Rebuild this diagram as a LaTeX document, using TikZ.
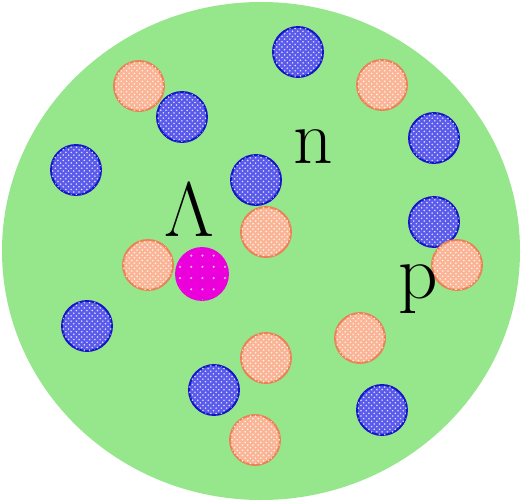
\documentclass[tikz,border=0pt]{standalone}
\usetikzlibrary{patterns}
\definecolor{nucgreen}{RGB}{150,230,140}
\definecolor{protfill}{RGB}{90,90,235}
\definecolor{protline}{RGB}{20,20,200}
\definecolor{neutfill}{RGB}{250,180,150}
\definecolor{neutline}{RGB}{235,130,85}
\definecolor{lamfill}{RGB}{235,0,220}
\pgfdeclarepatternformonly{sparse dots}{\pgfqpoint{-1pt}{-1pt}}{\pgfqpoint{6pt}{6pt}}{\pgfqpoint{6.4pt}{6.4pt}}%
{\pgfpathcircle{\pgfqpoint{0pt}{0pt}}{0.7pt}\pgfusepath{fill}}
\tikzset{
  ball/.style={circle, inner sep=0pt, minimum size=1cm, line width=1.1pt},
  proton/.style={ball, draw=protline, fill=protfill,
    postaction={pattern=crosshatch dots, pattern color=white!80!protfill}},
  neutron/.style={ball, draw=neutline, fill=neutfill,
    postaction={pattern=crosshatch dots, pattern color=white!85!neutfill}},
  hyperon/.style={ball, minimum size=1.04cm, draw=lamfill, fill=lamfill,
    postaction={pattern=sparse dots, pattern color=white!70!lamfill}},
  letter/.style={font=\Huge, scale=1.77, anchor=base, inner sep=0pt}
}
\begin{document}
\begin{tikzpicture}[x=0.02cm,y=-0.02cm]
    \useasboundingbox (0,0) rectangle (523,503);
    % nucleus
    \fill[nucgreen] (261,251) ellipse (259 and 249);

    % nucleons
    \node[neutron] (n1) at (139,86) {};
    \node[proton]  (p1) at (182,117) {};
    \node[proton]  (p2) at (298,52) {};
    \node[neutron] (n2) at (382,85) {};
    \node[proton]  (p3) at (76,170) {};
    \node[proton]  (p4) at (434,138) {};
    \node[proton]  (p5) at (256,180) {};
    \node[neutron] (n3) at (266,232) {};
    \node[proton]  (p6) at (434,222) {};
    \node[neutron] (n4) at (457,265) {};
    \node[neutron] (n5) at (148,265) {};
    \node[proton]  (p7) at (87,326) {};
    \node[neutron] (n6) at (360,338) {};
    \node[neutron] (n7) at (266,358) {};
    \node[proton]  (p8) at (214,390) {};
    \node[proton]  (p9) at (382,410) {};
    \node[neutron] (n8) at (255,440) {};

    % lambda
    \node[hyperon] (lam) at (202,274) {};

    % labels
    \node[letter] (nlab) at (313,163) {n};
    \node[letter] (llab) at (189,236) {$\Lambda$};
    \node[letter] (plab) at (418,298) {p};
\end{tikzpicture}
\end{document}
